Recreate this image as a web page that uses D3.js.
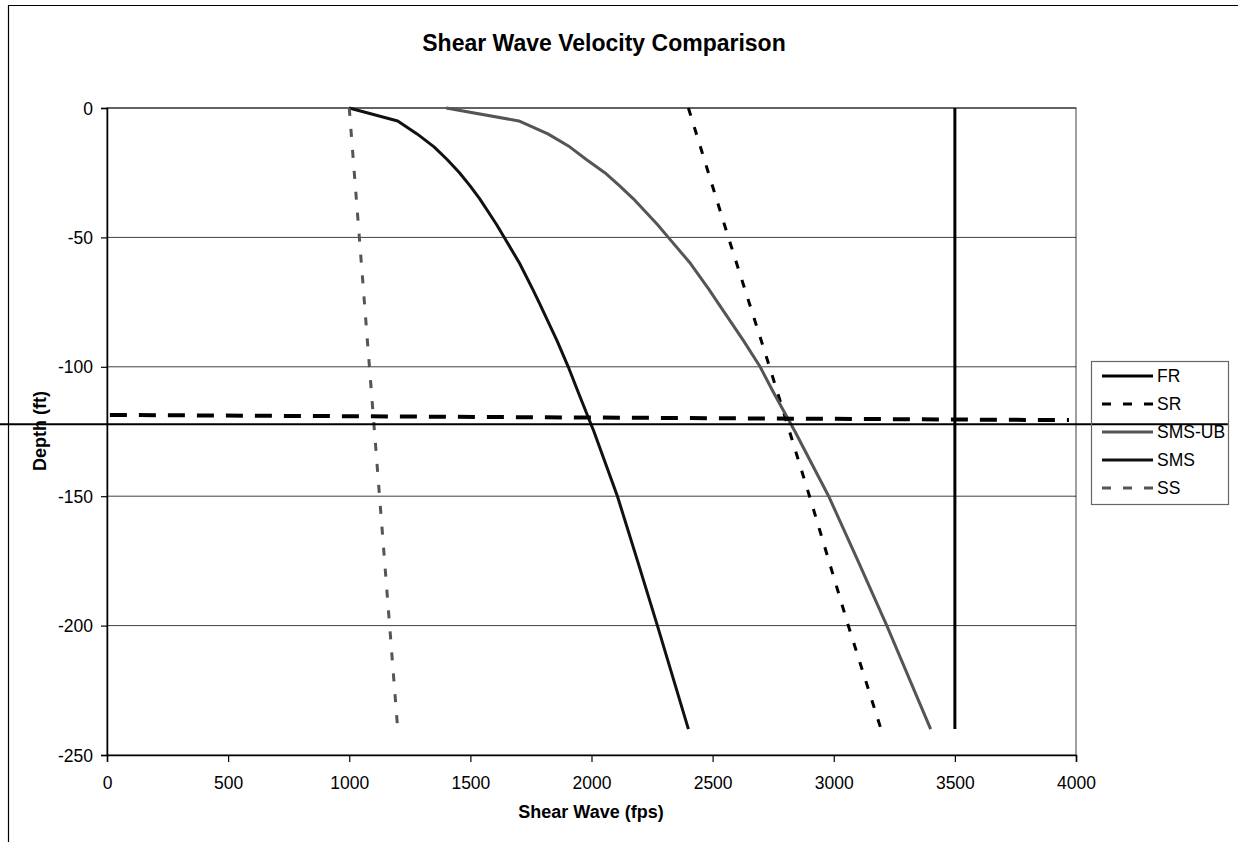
<!DOCTYPE html>
<html><head><meta charset="utf-8">
<script src="https://cdn.jsdelivr.net/npm/d3@7"></script>
<style>
html,body{margin:0;padding:0;background:#fff;}
svg{display:block;font-family:Arial,"Liberation Sans",sans-serif;}
</style></head>
<body>
<svg id="c" width="1238" height="842"></svg>
<script>
// ---- data ----
const seriesNames = ["FR", "SR", "SMS-UB", "SMS", "SS"];
const depthFR = [0, -240];
const velFR = [3500, 3500];
const depthSR = [0, -50, -100, -150, -200, -240];
const velSR = [2400, 2565, 2735, 2900, 3060, 3195];
const depthSMSUB = [0, -5, -10, -15, -20, -25, -30, -35, -40, -45, -50, -60, -70, -75, -90, -100, -110, -125, -150, -175, -200, -240];
const velSMSUB = [1400, 1700, 1820, 1910, 1980, 2055, 2115, 2172, 2222, 2272, 2317, 2408, 2484, 2520, 2628, 2696, 2752, 2840, 2979, 3100, 3219, 3400];
const depthSMS = [0, -5, -10, -15, -20, -25, -30, -35, -40, -45, -50, -60, -70, -75, -90, -100, -110, -125, -150, -175, -200, -240];
const velSMS = [1000, 1200, 1280, 1350, 1405, 1455, 1498, 1538, 1573, 1608, 1640, 1703, 1757, 1783, 1858, 1904, 1946, 2010, 2107, 2190, 2272, 2400];
const depthSS = [0, -240];
const velSS = [1000, 1200];
const xTicks = [0, 500, 1000, 1500, 2000, 2500, 3000, 3500, 4000];
const yTicks = [0, -50, -100, -150, -200, -250];
// annotation lines drawn on the chart (data units)
const dashMarkVel = [12, 3971];
const dashMarkDepth = [-118.6, -120.6];
const solidMarkVel = [-442, 4627];
const solidMarkDepth = [-122.2, -122.2];

const styles = {
  "FR":     {color:"#000", dash:null, width:3},
  "SR":     {color:"#000", dash:"8,12", width:3},
  "SMS-UB": {color:"#555", dash:null, width:3},
  "SMS":    {color:"#111", dash:null, width:3},
  "SS":     {color:"#555", dash:"8,13", width:3}
};

const svg = d3.select("#c");
const L = 107, R = 1076, T = 108, B = 755;
const x = d3.scaleLinear().domain([0, 4000]).range([L, R]);
const y = d3.scaleLinear().domain([0, -250]).range([T, B]);
const fmt = d => String(d);

// outer chart border (partially visible)
svg.append("path").attr("d", "M8.5,842 L8.5,5.5 L1238,5.5").attr("fill","none").attr("stroke","#000").attr("stroke-width",1.2);

// plot area border
svg.append("rect").attr("x", L).attr("y", T).attr("width", R-L).attr("height", B-T)
  .attr("fill","none").attr("stroke","#808080").attr("stroke-width",1.5);

// gridlines
svg.append("g").selectAll("line").data(yTicks.slice(0, -1)).join("line")
  .attr("x1", L).attr("x2", R).attr("y1", d => y(d)).attr("y2", d => y(d))
  .attr("stroke","#000").attr("stroke-width",1).attr("opacity",0.75);

// axes
const xAxis = d3.axisBottom(x).tickValues(xTicks).tickSize(7).tickFormat(fmt);
const gx = svg.append("g").attr("transform", `translate(0,${B})`).call(xAxis);
gx.select(".domain").attr("stroke","#000").attr("stroke-width",1.5);
gx.selectAll(".tick line").attr("stroke","#000").attr("stroke-width",1.2);
gx.selectAll(".tick text").attr("font-size", 17.5).attr("fill","#000").attr("dy", 0).attr("y", 34)
  .attr("font-family","Arial,'Liberation Sans',sans-serif");

const yAxis = d3.axisLeft(y).tickValues(yTicks).tickSize(6).tickFormat(fmt);
const gy = svg.append("g").attr("transform", `translate(${L},0)`).call(yAxis);
gy.select(".domain").attr("stroke","#000").attr("stroke-width",1.5);
gy.selectAll(".tick line").attr("stroke","#000").attr("stroke-width",1.2);
gy.selectAll(".tick text").attr("font-size", 17.5).attr("fill","#000").attr("x", -14).attr("dy","0.35em")
  .attr("font-family","Arial,'Liberation Sans',sans-serif");

// series
const seriesData = {
  "FR": d3.zip(velFR, depthFR),
  "SR": d3.zip(velSR, depthSR),
  "SMS-UB": d3.zip(velSMSUB, depthSMSUB),
  "SMS": d3.zip(velSMS, depthSMS),
  "SS": d3.zip(velSS, depthSS)
};
const line = d3.line().x(d => x(d[0])).y(d => y(d[1]));
seriesNames.forEach(n => {
  const s = styles[n];
  svg.append("path").datum(seriesData[n]).attr("d", line)
    .attr("fill","none").attr("stroke", s.color).attr("stroke-width", s.width)
    .attr("stroke-dasharray", s.dash).attr("stroke-linejoin","round");
});

// annotation lines
svg.append("path").datum(d3.zip(dashMarkVel, dashMarkDepth)).attr("d", line)
  .attr("fill","none").attr("stroke","#000").attr("stroke-width",4).attr("stroke-dasharray","17,12");
svg.append("path").datum(d3.zip(solidMarkVel, solidMarkDepth)).attr("d", line)
  .attr("fill","none").attr("stroke","#000").attr("stroke-width",2);

// legend
const lg = svg.append("g");
lg.append("rect").attr("x", 1091.5).attr("y", 361.5).attr("width", 137).attr("height", 143)
  .attr("fill","none").attr("stroke","#666").attr("stroke-width",1.2);
seriesNames.forEach((n, i) => {
  const s = styles[n];
  const yy = 376 + i * 28;
  lg.append("line").attr("x1", 1102).attr("x2", 1153).attr("y1", yy).attr("y2", yy)
    .attr("stroke", s.color).attr("stroke-width", s.width).attr("stroke-dasharray", s.dash ? "9,12" : null);
  lg.append("text").attr("x", 1157).attr("y", yy).attr("dy","0.36em").attr("font-size",17.5).text(n);
});

// titles
svg.append("text").attr("x", 604).attr("y", 51).attr("text-anchor","middle")
  .attr("font-size", 23).attr("font-weight","bold").text("Shear Wave Velocity Comparison");
svg.append("text").attr("x", 591).attr("y", 818).attr("text-anchor","middle")
  .attr("font-size", 18).attr("font-weight","bold").text("Shear Wave (fps)");
svg.append("text").attr("transform","translate(46,431) rotate(-90)").attr("text-anchor","middle")
  .attr("font-size", 18).attr("font-weight","bold").text("Depth (ft)");
</script>
</body></html>
